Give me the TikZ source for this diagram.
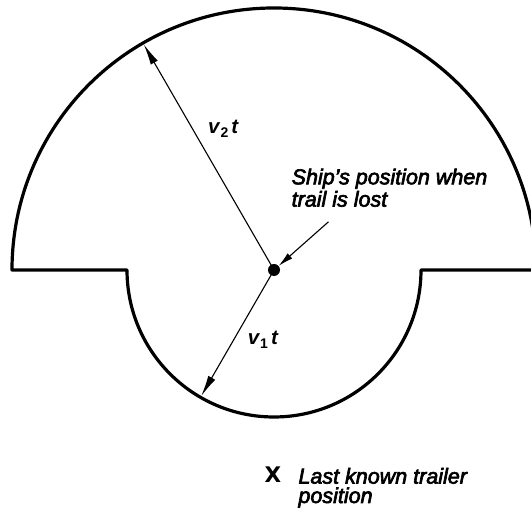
\documentclass[tikz,border=0pt]{standalone}
\usepackage{fontspec}
\setmainfont{Liberation Sans}
\newfontfamily\lbfont{Liberation Sans}[FakeBold=3]
\newfontfamily\xfont{DejaVu Sans}
\usetikzlibrary{arrows.meta,calc}
\newcommand\vlab[1]{\textbf{\textit{v}}\raisebox{-3.5pt}{\fontsize{14}{14}\selectfont\bfseries #1}\hspace{3pt}\textbf{\textit{t}}}
\tikzset{
  outline/.style={line width=3.2pt, line join=round},
  radiusarrow/.style={line width=1.1pt, -{Latex[length=21pt,width=8pt]}},
  leadarrow/.style={line width=1.1pt, -{Latex[length=15pt,width=7pt]}},
  lbl/.style={inner sep=0pt, align=left, anchor=north west},
  vlabel/.style={inner sep=0pt, anchor=base west, font=\fontsize{20.5}{20.5}\selectfont},
}
\begin{document}
\begin{tikzpicture}[x=1pt,y=1pt]
\useasboundingbox (0,0) rectangle (531,513);
\clip (0,0) rectangle (531,513);
\coordinate (C) at (274,243);
\draw[outline] ($(C)+(-262,0)$) arc[start angle=180,end angle=0,radius=262pt]
  -- ($(C)+(147,0)$) arc[start angle=0,end angle=-180,radius=147pt] -- cycle;
\node[circle, fill, inner sep=0pt, minimum size=12pt] (ship) at (C) {};
\coordinate (p2) at ($(C)+(120:260.5pt)$);
\coordinate (p1) at ($(C)+(240:145.5pt)$);
\draw[radiusarrow] (ship.center) -- (p2);
\draw[radiusarrow] (ship.center) -- (p1);
\coordinate (s0) at (328.5,291.2);
\draw[leadarrow] (s0) -- (ship);
\node[vlabel] (v2) at (208,379) {\vlab{2}};
\node[vlabel] (v1) at (247.7,168) {\vlab{1}};
\node[lbl, font=\lbfont\fontsize{21.5}{22.3}\selectfont\itshape] (shiptxt) at (291.5,344.5) {Ship’s position when\\trail is lost};
\node[inner sep=0pt, anchor=base west, font=\xfont\bfseries\fontsize{21.5}{21.5}\selectfont] (xmark) at (264.5,30.7) {X};
\node[lbl, font=\lbfont\fontsize{21.5}{19.4}\selectfont\itshape] (trailtxt) at (298.3,45.2) {Last known trailer\\position};
\end{tikzpicture}
\end{document}
